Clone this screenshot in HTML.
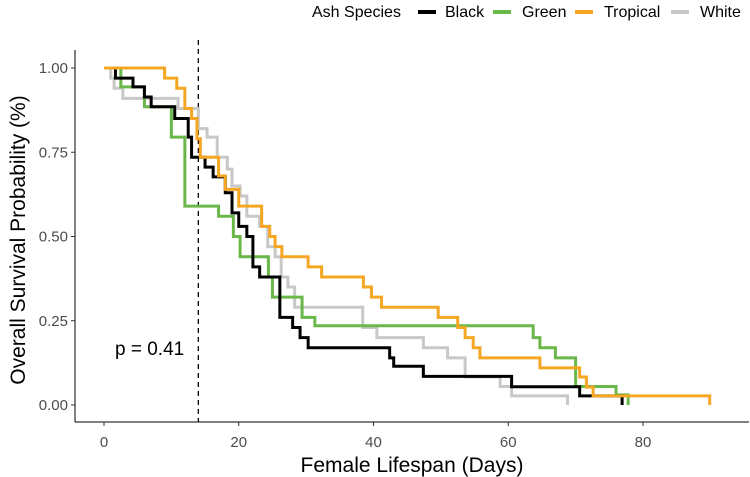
<!DOCTYPE html>
<html><head><meta charset="utf-8">
<style>
body{margin:0;background:#fff;}
svg{display:block;font-family:"Liberation Sans",Arial,sans-serif;}
</style></head>
<body>
<svg id="chart" width="750" height="477" viewBox="0 0 750 477">
  <g id="legend">
    <text x="312" y="17" font-size="16" fill="#000">Ash Species</text>
    <line x1="418" y1="12" x2="436" y2="12" stroke="#000" stroke-width="4"/>
    <text x="445" y="17" font-size="16">Black</text>
    <line x1="493" y1="12" x2="511" y2="12" stroke="#6ab74a" stroke-width="4"/>
    <text x="522" y="17" font-size="16">Green</text>
    <line x1="575" y1="12" x2="593" y2="12" stroke="#f5a623" stroke-width="4"/>
    <text x="604" y="17" font-size="16">Tropical</text>
    <line x1="671" y1="12" x2="689" y2="12" stroke="#c8c8c8" stroke-width="4"/>
    <text x="700" y="17" font-size="16">White</text>
  </g>
  <g id="axes"></g>
  <g id="series"></g>
  <text x="412" y="472" font-size="21" text-anchor="middle">Female Lifespan (Days)</text>
  <text transform="translate(25,240) rotate(-90)" font-size="21" text-anchor="middle">Overall Survival Probability (%)</text>
  <text x="115" y="355" font-size="19">p = 0.41</text>
</svg>
<script>
const xTicks=[0,20,40,60,80];
const yTicks=[0,0.25,0.5,0.75,1];
const yTickLabels=["0.00","0.25","0.50","0.75","1.00"];
const medianLine=14;
const blackT=[0,1.7,4.3,6,7,10.5,12.5,13,15,16.2,18,19,20,21.2,22.1,23.1,26.1,28,29.1,30.3,42.4,43,47.4,60.5,70.6,76.9];
const blackS=[1,0.97,0.944,0.914,0.885,0.85,0.795,0.735,0.706,0.677,0.63,0.57,0.53,0.5,0.41,0.38,0.26,0.23,0.2,0.17,0.14,0.115,0.085,0.054,0.027,0];
const greenT=[0,2.5,6,10,12,17,19.2,20.2,24.4,25,29.4,31.3,63.7,64.7,67,70,76,77.8];
const greenS=[1,0.944,0.885,0.795,0.59,0.56,0.5,0.44,0.38,0.32,0.26,0.235,0.2,0.17,0.14,0.055,0.03,0];
const tropT=[0,9,10.8,12,13,13.8,14.3,17,18,20,23.4,24.6,25.4,26.4,30.3,32.3,38.5,39.7,41.2,49.6,52.5,53.6,54.8,55.8,64.7,70.6,71.6,72.6,89.9];
const tropS=[1,0.97,0.94,0.88,0.85,0.79,0.735,0.68,0.64,0.59,0.53,0.5,0.47,0.44,0.41,0.38,0.35,0.32,0.29,0.26,0.23,0.2,0.17,0.14,0.11,0.083,0.053,0.027,0];
const whiteT=[0,1,1.5,2.8,11,14,15.3,16.8,18.3,19,20.2,21.2,23.1,24.3,25.4,26.3,27.3,28.3,38.4,40.5,47.4,51,53.6,58.8,60.5,68.8];
const whiteS=[1,0.97,0.94,0.91,0.88,0.82,0.795,0.735,0.7,0.65,0.62,0.56,0.53,0.47,0.44,0.38,0.35,0.29,0.23,0.2,0.17,0.14,0.083,0.055,0.027,0];

const NS="http://www.w3.org/2000/svg";
const X=d=>104+d*(643-104)/80;
const Y=s=>405-s*337;
function mk(tag,attrs,parent){const e=document.createElementNS(NS,tag);for(const k in attrs)e.setAttribute(k,attrs[k]);parent.appendChild(e);return e;}
const axes=document.getElementById('axes');
let a=mk('line',{x1:75,y1:422,x2:749,y2:422,stroke:'#000','stroke-width':1},axes);


a=mk('line',{x1:75,y1:50,x2:75,y2:422,stroke:'#000','stroke-width':1},axes);


xTicks.forEach(t=>{
  const l=mk('line',{x1:X(t),y1:422,x2:X(t),y2:426,stroke:'#333'},axes);
  
  
  const tx=mk('text',{x:X(t),y:447,'font-size':15,'text-anchor':'middle',fill:'#4d4d4d'},axes);
  tx.textContent=t;
  
  
});
yTicks.forEach((t,i)=>{
  const l=mk('line',{x1:71,y1:Y(t),x2:75,y2:Y(t),stroke:'#333'},axes);
  
  
  const tx=mk('text',{x:68,y:Y(t)+5,'font-size':15,'text-anchor':'end',fill:'#4d4d4d'},axes);
  tx.textContent=yTickLabels[i];
  
  
});
const ml=mk('line',{x1:X(medianLine),y1:40,x2:X(medianLine),y2:422,stroke:'#000','stroke-width':1.3,'stroke-dasharray':'5,4'},axes);


const ser=document.getElementById('series');
function step(T,S,color,name){
  let d='M'+X(T[0])+','+Y(S[0]);
  for(let i=1;i<T.length;i++){d+=' H'+X(T[i])+' V'+Y(S[i]);}
  const p=mk('path',{d:d,fill:'none',stroke:color,'stroke-width':3},ser);
  
  
}
step(whiteT,whiteS,'#c8c8c8','curve-white');
step(greenT,greenS,'#6ab74a','curve-green');
step(blackT,blackS,'#000000','curve-black');
step(tropT,tropS,'#f5a623','curve-tropical');
</script>
</body></html>
